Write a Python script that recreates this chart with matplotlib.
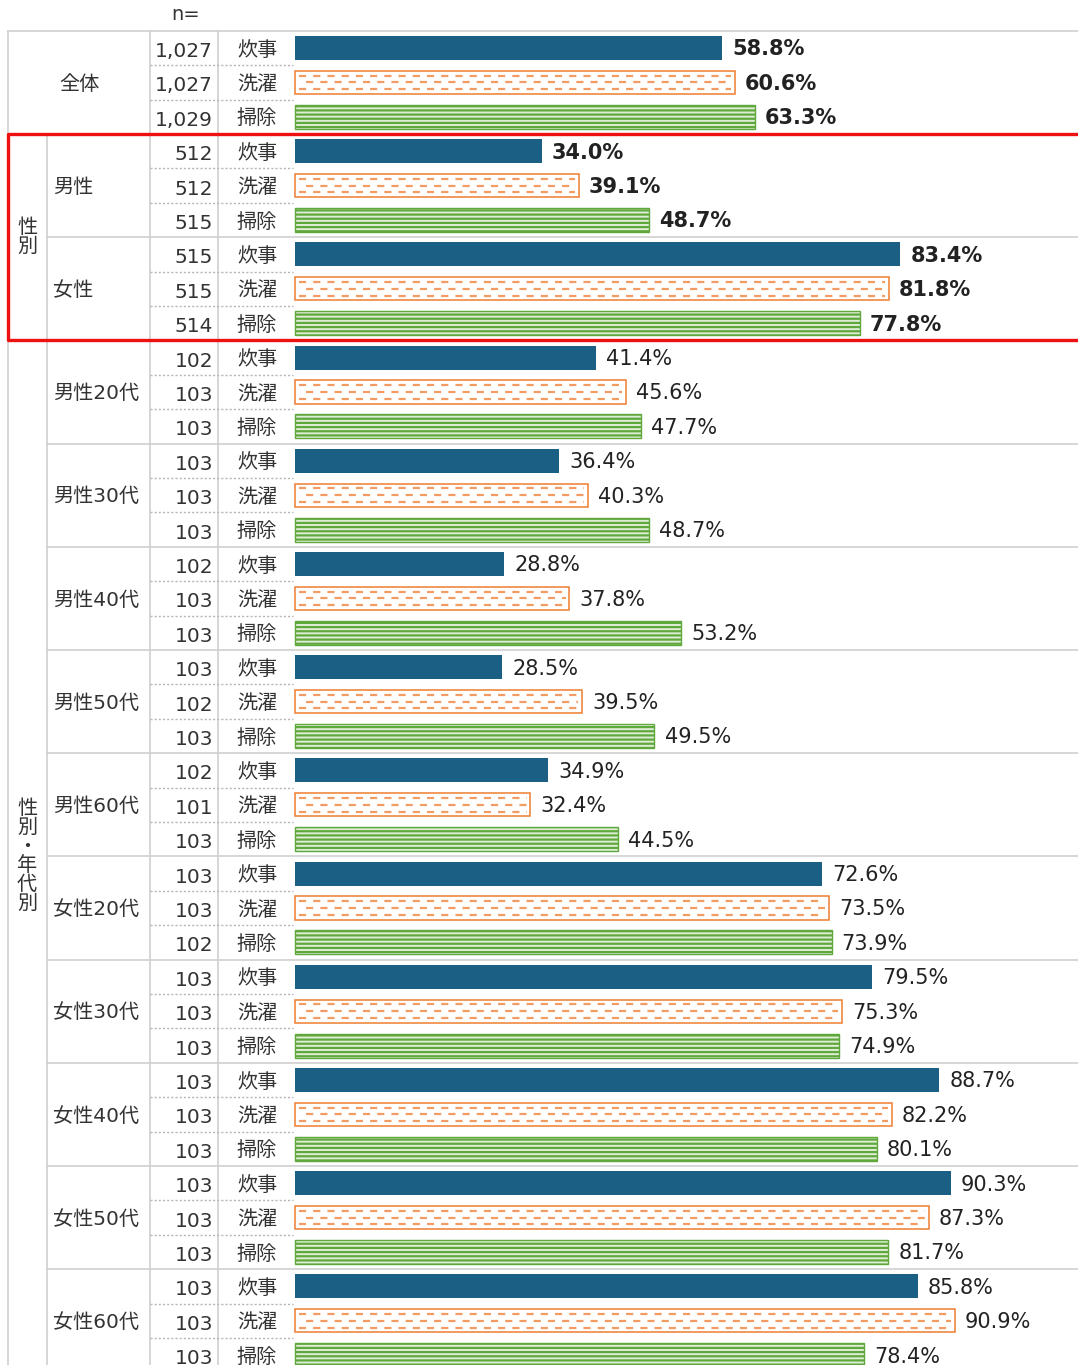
import numpy as np
import matplotlib
matplotlib.use('Agg')
from matplotlib import pyplot as plt

plt.rcParams['font.family'] = ['DejaVu Sans', 'Noto Sans CJK JP']
plt.rcParams['hatch.linewidth'] = 1.6

# data
groups = ['全体', '男性', '女性', '男性20代', '男性30代', '男性40代', '男性50代', '男性60代',
          '女性20代', '女性30代', '女性40代', '女性50代', '女性60代']
items = ['炊事', '洗濯', '掃除']
cooking = [58.8, 34.0, 83.4, 41.4, 36.4, 28.8, 28.5, 34.9, 72.6, 79.5, 88.7, 90.3, 85.8]
laundry = [60.6, 39.1, 81.8, 45.6, 40.3, 37.8, 39.5, 32.4, 73.5, 75.3, 82.2, 87.3, 90.9]
cleaning = [63.3, 48.7, 77.8, 47.7, 48.7, 53.2, 49.5, 44.5, 73.9, 74.9, 80.1, 81.7, 78.4]
n_cooking = ['1,027', '512', '515', '102', '103', '102', '103', '102', '103', '103', '103', '103', '103']
n_laundry = ['1,027', '512', '515', '103', '103', '103', '102', '101', '103', '103', '103', '103', '103']
n_cleaning = ['1,029', '515', '514', '103', '103', '103', '103', '103', '102', '103', '103', '103', '103']

NAVY = '#1b5f85'
ORANGE = '#ed7d31'
GREEN = '#5fa83c'
GRID = '#cfcfcf'
TXT = '#333333'

# pixel -> data helpers (bars start at px 295, 7.26 px per %, rows 34.4 px)
X0, K = 295, 7.26
Y0, R = 48, 34.4
def fx(px): return (px - X0) / K
def fy(py): return (py - Y0) / R

W, H = 1078, 1365
fig = plt.figure(figsize=(W / 100, H / 100), dpi=100)
ax = fig.add_axes([0, 0, 1, 1])
ax.set_xlim(fx(0), fx(W))
ax.set_ylim(fy(H), fy(0))
ax.axis('off')

ng = len(groups)
base = np.arange(ng) * 3
y_c, y_l, y_s = base, base + 1, base + 2

# bars
ax.barh(y_c, cooking, height=0.7, color=NAVY, zorder=3)
ax.barh(y_l, laundry, height=0.68, color='white', edgecolor=ORANGE, lw=1.1, zorder=3)
for yy, v in zip(y_l, laundry):
    for off, ph in [(-0.2, 0), (0, 3.2), (0.2, 0)]:
        ax.plot([0.5, v - 0.5], [yy + off, yy + off], color='#f29b63', lw=1.6,
                linestyle=(ph, (3.2, 3.2)), solid_capstyle='butt', zorder=4)
ax.barh(y_s, cleaning, height=0.7, color='#e0eed8', edgecolor=GREEN, hatch='----',
        lw=1.0, zorder=3)

# value labels
for i in range(ng):
    fw = 'bold' if i < 3 else 'normal'
    for yy, v in [(y_c[i], cooking[i]), (y_l[i], laundry[i]), (y_s[i], cleaning[i])]:
        ax.text(v + 1.4, yy + 0.04, f'{v:.1f}%', va='center', ha='left', fontsize=15,
                fontweight=fw, color='#222222', zorder=5)

# table lines
right = fx(W)
top = -0.5
bottom = fy(H + 20)
ax.plot([fx(8), right], [top, top], color=GRID, lw=1.2)
ax.plot([fx(8), fx(8)], [top, bottom], color=GRID, lw=1.2)
ax.plot([fx(47), fx(47)], [2.5, bottom], color=GRID, lw=1.2)
ax.plot([fx(150), fx(150)], [top, bottom], color=GRID, lw=1.2)
ax.plot([fx(218), fx(218)], [top, bottom], color=GRID, lw=1.2)
for g in range(ng):
    for k in (1, 2):
        yb = g * 3 + k - 0.5
        ax.plot([fx(150), fx(293)], [yb, yb], color='#b5b5b5', lw=1.0, linestyle=(0, (1.5, 1.5)))
    if g < ng - 1:
        yb = g * 3 + 2.5
        x_start = fx(8) if g in (0, 2) else fx(47)
        ax.plot([x_start, right], [yb, yb], color=GRID, lw=1.2, zorder=2)

# table text
ax.text(fx(186), fy(15), 'n=', ha='center', va='center', fontsize=14, color=TXT)
for i in range(ng):
    yc = base[i] + 1.05
    if i == 0:
        ax.text(fx(79), yc, groups[i], ha='center', va='center', fontsize=14.5, color=TXT)
    else:
        ax.text(fx(53), yc, groups[i], ha='left', va='center', fontsize=14.5, color=TXT)
    for yy, nn, it in [(y_c[i], n_cooking[i], items[0]), (y_l[i], n_laundry[i], items[1]),
                       (y_s[i], n_cleaning[i], items[2])]:
        ax.text(fx(213), yy + 0.1, nn, ha='right', va='center', fontsize=14.5, color=TXT)
        ax.text(fx(257), yy + 0.06, it, ha='center', va='center', fontsize=14.5, color=TXT)

ax.text(fx(27), 5.5, '性\n別', ha='center', va='center', fontsize=14.5,
        linespacing=1.0, color=TXT)
ax.text(fx(27), (8.5 + fy(1372)) / 2, '性\n別\n・\n年\n代\n別', ha='center', va='center',
        fontsize=14.5, linespacing=1.0, color=TXT)

# red frame around the 性別 block
ax.plot([fx(1090), fx(8), fx(8), fx(1090)], [2.5, 2.5, 8.5, 8.5], color='#ee1111', lw=2.4,
        zorder=6)

fig.savefig('out.png', dpi=100)
